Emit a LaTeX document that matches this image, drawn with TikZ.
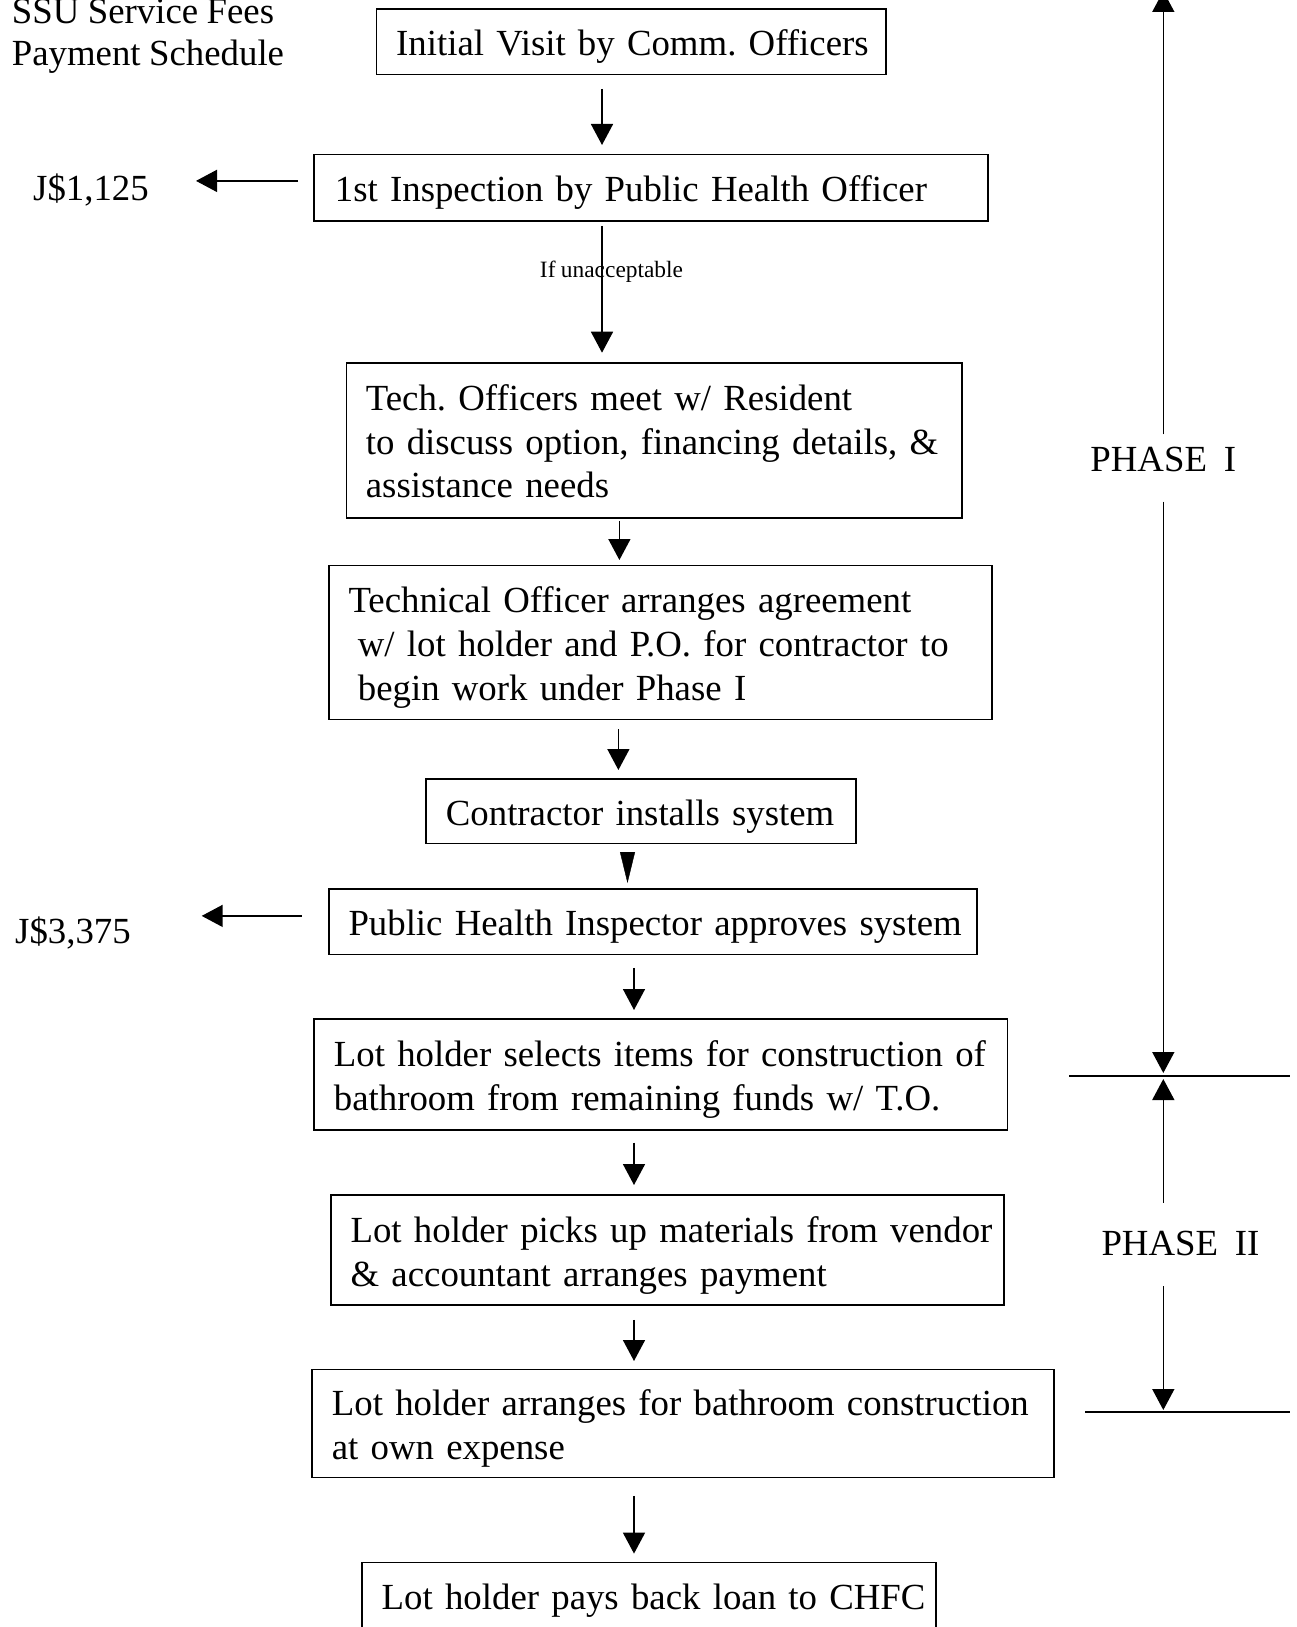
\documentclass[tikz,border=0pt]{standalone}
\usepackage{fontspec}
\setmainfont[WordSpace=0.92]{Liberation Serif}
\usetikzlibrary{arrows.meta,calc}
\newcommand\mainfs{\fontsize{36.8pt}{43.6pt}\selectfont\frenchspacing}
\newcommand\smallfs{\fontsize{23.4pt}{27pt}\selectfont\frenchspacing}
\newcommand\TS{\rule{0pt}{37pt}}
\newcommand\BS{\rule[-9pt]{0pt}{9pt}}
\begin{document}
\begin{tikzpicture}[x=1pt,y=-1pt,
  box/.style={draw, line width=1.8pt, inner ysep=0pt, align=left, anchor=north west, font=\mainfs},
  lbl/.style={inner sep=0pt, anchor=base west, font=\mainfs},
  arr/.style={line width=1.6pt, -{Triangle[length=21pt,width=22pt]}},
  wedge/.style={line width=0.4pt, -{Triangle[length=31pt,width=15pt]}},
  rule/.style={line width=1.6pt}]
\useasboundingbox (0,0) rectangle (1296,1627);

% title and fees
\node[lbl] (t1) at (11.7,23.5) {SSU Service Fees};
\node[lbl] (t2) at (11.7,66) {Payment Schedule};
\node[lbl] (j1) at (33,200) {J\$1,125};
\node[lbl] (j2) at (15,943) {J\$3,375};

% boxes
\node[box, text width=470.1pt, inner xsep=19.7pt, minimum height=65.4pt] (b1) at (375.6,8.3)
  {\TS\mbox{Initial Visit by Comm. Officers}\BS};
\node[box, text width=632.2pt, inner xsep=20.6pt, minimum height=66.4pt] (b2) at (313.4,153.6)
  {\TS\mbox{1st Inspection by Public Health Officer}\BS};
\node[box, text width=576.3pt, inner xsep=19.5pt, minimum height=154.6pt] (b3) at (345.5,362.1)
  {\TS\mbox{Tech. Officers meet w/ Resident}\\\mbox{to discuss option, financing details, \&}\\\mbox{assistance needs}\BS};
\node[box, text width=623.6pt, inner xsep=19.7pt, minimum height=154pt] (b4) at (327.9,564.5)
  {\TS\mbox{Technical Officer arranges agreement}\\\hspace*{9.4pt}\mbox{w/ lot holder and P.O. for contractor to}\\\hspace*{9.4pt}\mbox{begin work under Phase I}\BS};
\node[box, text width=390.4pt, inner xsep=19.6pt, minimum height=64.3pt] (b5) at (425.4,778.2)
  {\TS\mbox{Contractor installs system}\BS};
\node[box, text width=609.1pt, inner xsep=19.7pt, minimum height=65.4pt] (b6) at (327.9,888.2)
  {\TS\mbox{Public Health Inspector approves system}\BS};
\node[box, text width=653.9pt, inner xsep=19.6pt, minimum height=111pt] (b7) at (313.4,1017.9)
  {\TS\mbox{Lot holder selects items for construction of}\\\mbox{bathroom from remaining funds w/ T.O.}\BS};
\node[box, text width=634pt, inner xsep=19.7pt, minimum height=110pt] (b8) at (330,1194.3)
  {\TS\mbox{Lot holder picks up materials from vendor}\\\mbox{\& accountant arranges payment}\BS};
\node[box, text width=702.5pt, inner xsep=19.7pt, minimum height=107.9pt] (b9) at (311.3,1368.6)
  {\TS\mbox{Lot holder arranges for bathroom construction}\\\mbox{at own expense}\BS};
\node[box, text width=534.4pt, inner xsep=19.7pt, minimum height=66pt] (b10) at (361.1,1561.6)
  {\TS\mbox{Lot holder pays back loan to CHFC}\BS};

% arrow columns
\coordinate (c1) at (602,0);
\coordinate (c3) at (619.4,0);
\coordinate (c4) at (618.4,0);
\coordinate (c5) at (627.5,0);
\coordinate (c6) at (634,0);

\draw[arr, shorten <=13.3pt, shorten >=8.6pt] (b1.south -| c1) -- (b2.north -| c1);
\draw[arr, shorten <=4pt, shorten >=9.4pt] (b2.south -| c1) -- (b3.north -| c1);
\node[inner sep=0pt, anchor=base, font=\smallfs] (u) at (611.5,277.3) {If unacceptable};
\draw[arr, shorten <=2.3pt, shorten >=4.5pt] (b3.south -| c3) -- (b4.north -| c3);
\draw[arr, shorten <=9pt, shorten >=8.2pt] (b4.south -| c4) -- (b5.north -| c4);
\draw[wedge, shorten <=9.5pt, shorten >=5.2pt] (b5.south -| c5) -- (b6.north -| c5);
\draw[arr, shorten <=12.4pt, shorten >=7.9pt] (b6.south -| c6) -- (b7.north -| c6);
\draw[arr, shorten <=12pt, shorten >=9.3pt] (b7.south -| c6) -- (b8.north -| c6);
\draw[arr, shorten <=13.7pt, shorten >=7.6pt] (b8.south -| c6) -- (b9.north -| c6);
\draw[arr, shorten <=17.5pt, shorten >=8pt] (b9.south -| c6) -- (b10.north -| c6);

% fee arrows
\draw[arr] ($(b2.west)+(-15.4,-6.8)$) -- ++(-102,0);
\draw[arr] ($(b6.west)+(-26.2,-5.9)$) -- ++(-100,0);

% phases
\node[inner sep=0pt, anchor=base, font=\mainfs] (p1) at (1163.3,471) {PHASE~~I};
\node[inner sep=0pt, anchor=base, font=\mainfs] (p2) at (1180.5,1255) {PHASE~~II};
\draw[arr] ($(p1.base)+(0,-36.7)$) -- ++(0,-443.3);
\draw[arr] ($(p1.base)+(0,30.7)$) -- ++(0,571.3);
\draw[arr] ($(p2.base)+(-17.2,-52.3)$) -- ++(0,-123.7);
\draw[arr] ($(p2.base)+(-17.2,31)$) -- ++(0,124);
\draw[rule] (1069,1076) -- (1290,1076);
\draw[rule] (1085,1412) -- (1290,1412);
\end{tikzpicture}
\end{document}
